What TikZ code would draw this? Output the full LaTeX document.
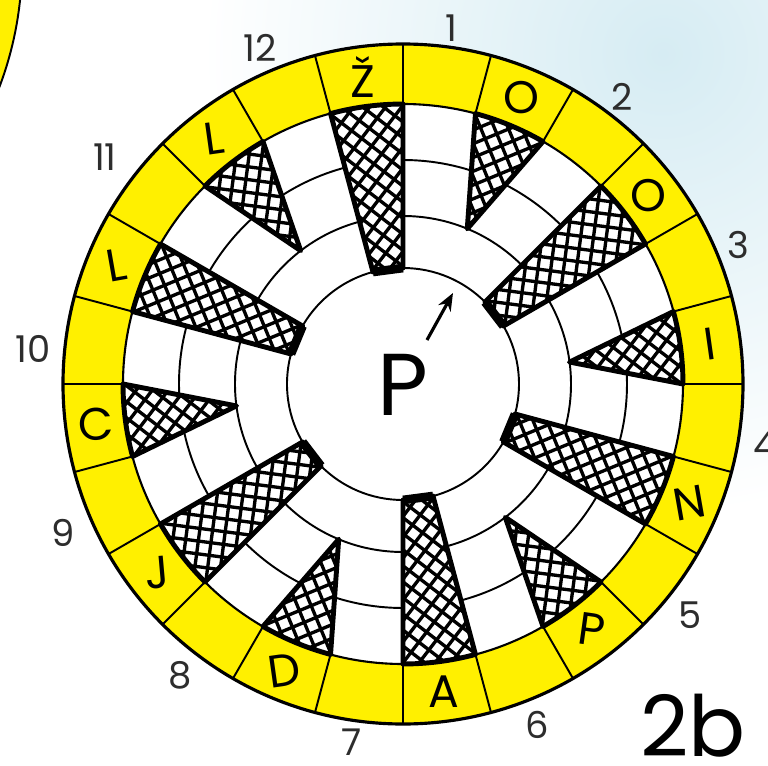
\documentclass[tikz,border=0pt]{standalone}
\usepackage{fontspec}
\setmainfont{Poppins}
\usepackage{xcolor}
\usetikzlibrary{arrows.meta}
\definecolor{ringyellow}{RGB}{255,240,0}
\definecolor{skyblue}{RGB}{214,236,243}
\definecolor{numgray}{RGB}{45,45,45}
\newcommand{\wedgepath}[2]{(-#1:#2) -- (-7.5:280) arc[start angle=-7.5, end angle=7.5, radius=280] -- (#1:#2) -- cycle}

\begin{document}
\begin{tikzpicture}[x = 0.02cm, y = 0.02cm,
        ring line/.style = {line width = 1.1pt},
        hatch line/.style = {line width = 1.9pt},
        wedge/.style = {line width = 2.8pt, line join = round},
        cell letter/.style = {font = \fontsize{26}{26}\selectfont},
        clock num/.style = {font = \fontsize{21}{21}\selectfont, text = numgray, inner sep = 1pt}]
            \useasboundingbox (-403,-381) rectangle (365,384);
            \begin{scope}
                \clip (-403,-381) rectangle (365,384);
                \fill[white] (-403,-381) rectangle (365,384);
                \shade[inner color = skyblue, outer color = white] (260,330) circle[radius = 460];
                \filldraw[fill = ringyellow, line width = 1.1pt] (-731,421) circle[radius = 350];
            \end{scope}
            \coordinate (O) at (0,0);
            \fill[ringyellow] (O) circle[radius = 340];
            \fill[white] (O) circle[radius = 280];
            \foreach \r in {116,168,224} \draw[ring line] (O) circle[radius = \r];
            \foreach \a in {0,15,...,345} \draw[ring line] (\a:280) -- (\a:340);
            \draw[line width = 1.2pt] (O) circle[radius = 280];
            \draw[line width = 1.8pt] (O) circle[radius = 340];
            \foreach \a/\hw/\ri in {97.5/7.5/116, 67.5/0/168, 37.5/7.5/116, 7.5/0/168,
                    -22.5/7.5/116, -52.5/0/168, -82.5/7.5/116, -112.5/0/168,
                    -142.5/7.5/116, -172.5/0/168, 157.5/7.5/116, 127.5/0/168}{
                \begin{scope}[rotate = \a]
                    \fill[white] \wedgepath{\hw}{\ri};
                    \begin{scope}
                        \clip \wedgepath{\hw}{\ri};
                        \foreach \u in {60,78,...,340}{
                            \draw[hatch line] (\u,0) ++(-60,-60) -- ++(120,120);
                            \draw[hatch line] (\u,0) ++(-60,60) -- ++(120,-120);
                        }
                    \end{scope}
                    \draw[wedge] \wedgepath{\hw}{\ri};
                    \draw[line width = 5pt] (-\hw:\ri) -- (\hw:\ri);
                \end{scope}
            }
            \foreach \a/\ltr/\rot [count = \i] in {97.5/Ž/0, 67.5/O/0, 37.5/O/0, 7.5/I/8,
                    -22.5/N/10, -52.5/P/-8, -82.5/A/0, -112.5/D/8, -142.5/J/5,
                    -172.5/C/4, 157.5/L/10, 127.5/L/8}
                \node[cell letter, rotate = \rot] (c\i) at (\a:310) {\ltr};
            \foreach \p [count = \i] in {(48,356), (219,287), (335,139), (362,-61),
                    (287,-231), (134,-341), (-51,-358), (-223,-291), (-340,-149),
                    (-370,35), (-298,227), (-143,336)}
                \node[clock num] (n\i) at \p {\i};
            \node[font = \fontsize{50}{50}\selectfont] (P) at (0,-1) {P};
            \coordinate (tail) at (24,44);
            \coordinate (tip) at (50,91);
            \draw[line width = 1.8pt, -{Stealth[length = 10pt, width = 8pt]}] (tail) -- (tip);
            \node[anchor = base, inner sep = 0pt, font = \fontsize{48}{48}\selectfont] (fig) at (290,-372) {2b};
        \end{tikzpicture}
\end{document}
